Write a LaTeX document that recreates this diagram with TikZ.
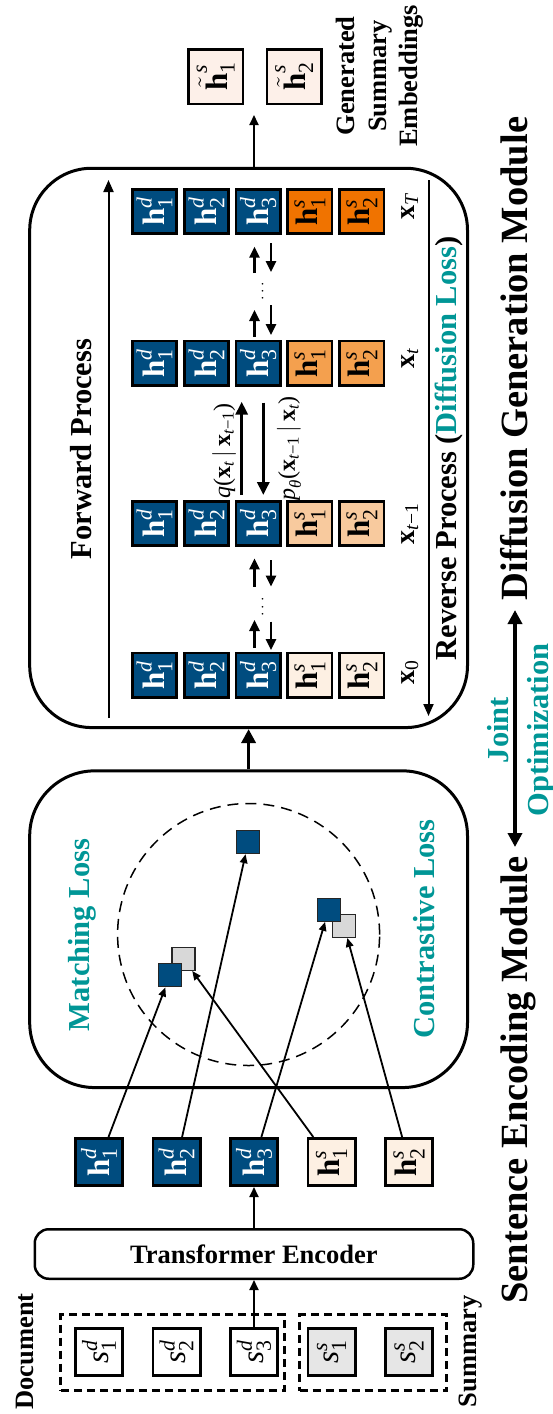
\RequirePackage{fix-cm}
\documentclass[tikz,border=0pt]{standalone}
\usepackage{amsmath}
\usepackage{fontspec}
\setmainfont{Liberation Serif}
\usetikzlibrary{arrows.meta}

\definecolor{encblue}{RGB}{0,76,127}
\definecolor{creamfill}{RGB}{253,240,227}
\definecolor{genfill}{RGB}{253,240,233}
\definecolor{orangeT}{RGB}{240,115,0}
\definecolor{orangeM}{RGB}{244,160,78}
\definecolor{orangeL}{RGB}{248,202,158}
\definecolor{sentgray}{RGB}{230,230,230}
\definecolor{sqgray}{RGB}{216,216,216}
\definecolor{tealtxt}{RGB}{0,150,150}

\newcommand{\lblsmall}{\bfseries\fontsize{26.5}{31.5}\selectfont}
\newcommand{\lblmid}{\bfseries\fontsize{30.5}{36}\selectfont}
\newcommand{\lblbig}{\bfseries\fontsize{38.5}{46}\selectfont}
\newcommand{\boxfont}{\fontsize{31}{34}\selectfont}
\newcommand{\embd}[1]{$\textbf{h}^{\textit{d}}_{\textrm{#1}}$}
\newcommand{\embs}[1]{$\textbf{h}^{\textit{s}}_{\textrm{#1}}$}
\newcommand{\embg}[1]{$\tilde{\textbf{h}}^{\textit{s}}_{\textrm{#1}}$}
\newcommand{\sentd}[1]{$\textit{s}^{\textit{d}}_{\textrm{#1}}$}
\newcommand{\sents}[1]{$\textit{s}^{\textit{s}}_{\textrm{#1}}$}

\begin{document}
\begin{tikzpicture}[x=1pt,y=-1pt,
  sq/.style={draw=black, line width=2.7pt, inner sep=0pt, rotate=90, font=\boxfont},
  encsq/.style={sq, minimum size=47.3pt},
  difsq/.style={sq, minimum size=44.3pt},
  gensq/.style={sq, minimum size=54.3pt, fill=genfill},
  hd/.style={fill=encblue, text=white},
  emb/.style={draw=black!85, line width=1.3pt, minimum size=23pt, inner sep=0pt},
  module/.style={draw=black, line width=3pt, inner sep=0pt},
  grp/.style={draw=black, line width=3pt, dash pattern=on 8pt off 5pt, inner sep=0pt},
  lbl/.style={rotate=90, inner sep=0pt, anchor=base},
  statelbl/.style={lbl, font=\fontsize{28}{32}\selectfont},
  link/.style={line width=1.8pt, -{Triangle[length=9pt,width=7.5pt]}},
  flow/.style={line width=2pt, -{Triangle[length=10pt,width=9pt]}},
  proc/.style={line width=2pt, -{Triangle[length=12pt,width=10pt]}},
  tick/.style={line width=2.5pt, -{Triangle[length=11pt,width=10pt]}},
  qp/.style={line width=3pt, -{Triangle[length=13pt,width=12pt]}},
  heavy/.style={line width=3.5pt, -{Triangle[length=14pt,width=14pt]}},
]
\useasboundingbox (0,0) rectangle (553,1414);

% ---------- input sentences ----------
\node[encsq, fill=white] (s1d) at (99,1352) {\sentd{1}};
\node[encsq, fill=white] (s2d) at (176.5,1352) {\sentd{2}};
\node[encsq, fill=white] (s3d) at (254,1352) {\sentd{3}};
\node[encsq, fill=sentgray] (s1s) at (331.5,1352) {\sents{1}};
\node[encsq, fill=sentgray] (s2s) at (409,1352) {\sents{2}};
\node[grp, minimum width=223.4pt, minimum height=76pt] (docgrp) at (172.5,1352.5) {};
\node[grp, minimum width=147pt, minimum height=76pt] (sumgrp) at (373,1352.5) {};
\node[lbl, font=\lblsmall] (doclbl) at (33.5,1351.5) {Document};
\node[lbl, font=\lblsmall] (sumlbl) at (476.5,1351.5) {Summary};

% ---------- encoder and sentence embeddings ----------
\node[draw, line width=2.5pt, rounded corners=14pt, minimum width=438.5pt,
      minimum height=49.5pt, font=\lblsmall] (enc) at (254,1254) {Transformer Encoder};
\node[encsq, hd] (h1d) at (99,1162) {\embd{1}};
\node[encsq, hd] (h2d) at (176.5,1162) {\embd{2}};
\node[encsq, hd] (h3d) at (254,1162) {\embd{3}};
\node[encsq, fill=creamfill] (h1s) at (331.5,1162) {\embs{1}};
\node[encsq, fill=creamfill] (h2s) at (409,1162) {\embs{2}};
\draw[flow] (s3d) -- (enc);
\draw[flow] (enc) -- (h3d);

% ---------- sentence encoding module ----------
\node[module, rounded corners=65pt, minimum width=437.8pt, minimum height=316.7pt] (senc) at (248.6,929.2) {};
\draw[line width=1.5pt, dash pattern=on 11pt off 7pt] (248.6,934.5) circle[radius=131pt];
\node[emb, fill=sqgray] (g1) at (183.4,958.8) {};
\node[emb, fill=encblue] (b1) at (170,975.3) {};
\node[emb, fill=encblue] (b0) at (248.3,842) {};
\node[emb, fill=sqgray] (g2) at (344,925.8) {};
\node[emb, fill=encblue] (b2) at (328.7,909.7) {};
\draw[link] (h1d) -- (b1);
\draw[link] (h2d) -- (b0);
\draw[link] (h3d) -- (b2);
\draw[link] (h1s) -- (g1);
\draw[link] (h2s) -- (g2);
\node[lbl, font=\lblmid, text=tealtxt] (mlbl) at (89.4,935) {Matching Loss};
\node[lbl, font=\lblmid, text=tealtxt] (clbl) at (434,929) {Contrastive Loss};

% ---------- diffusion generation module ----------
\node[module, rounded corners=62pt, minimum width=437.8pt, minimum height=559.3pt] (diff) at (248.6,447.9) {};
\draw[heavy] (senc.north) -- (diff.south);

\foreach \r/\py/\sfill in {T/211.5/orangeT, t/363/orangeM, m/523.3/orangeL, z/675/creamfill} {
  \node[difsq, hd] (\r1) at (154.5,\py) {\embd{1}};
  \node[difsq, hd] (\r2) at (206.4,\py) {\embd{2}};
  \node[difsq, hd] (\r3) at (258.2,\py) {\embd{3}};
  \node[difsq, fill=\sfill] (\r4) at (309.8,\py) {\embs{1}};
  \node[difsq, fill=\sfill] (\r5) at (361.8,\py) {\embs{2}};
}
\node[statelbl] (xT) at (414,207) {$\textbf{x}_{\textit{T}}$};
\node[statelbl] (xt) at (414,359) {$\textbf{x}_{\textit{t}}$};
\node[statelbl] (xm) at (414,524) {$\textbf{x}_{\textit{t}\textrm{−1}}$};
\node[statelbl] (x0) at (414,672) {$\textbf{x}_{\textrm{0}}$};

% transition arrows between consecutive states
\foreach \n/\ya/\yb/\yc/\yd in {a/273/246.7/243/272, b/336.7/310/305/335, c/586.7/558.3/560/586.7, d/648/620/621.7/650} {
  \coordinate (up\n s) at (254.5,\ya);
  \coordinate (up\n e) at (254.5,\yb);
  \coordinate (dn\n s) at (271,\yc);
  \coordinate (dn\n e) at (271,\yd);
  \draw[tick] (up\n s) -- (up\n e);
  \draw[tick] (dn\n s) -- (dn\n e);
}
\node[rotate=90, inner sep=0pt, font=\fontsize{16}{18}\selectfont] (dots1) at (263,290) {$\cdots$};
\node[rotate=90, inner sep=0pt, font=\fontsize{16}{18}\selectfont] (dots2) at (263,605.5) {$\cdots$};

\coordinate (qs) at (241.7,495);
\coordinate (qe) at (241.7,401.7);
\coordinate (ps) at (263.3,402.7);
\coordinate (pe) at (263.3,495);
\draw[qp] (qs) -- (qe);
\draw[qp] (ps) -- (pe);
\node[rotate=90, inner sep=0pt, font=\fontsize{24}{28}\selectfont] (qlbl) at (224,451)
  {$\textit{q}\textrm{(}\textbf{x}_{\textit{t}}\,|\,\textbf{x}_{\textit{t}\textrm{−1}}\textrm{)}$};
\node[rotate=90, inner sep=0pt, font=\fontsize{24}{28}\selectfont] (plbl) at (289,448.5)
  {$\textit{p}_{\textit{θ}}\textrm{(}\textbf{x}_{\textit{t}\textrm{−1}}\,|\,\textbf{x}_{\textit{t}}\textrm{)}$};

% forward and reverse process
\coordinate (fwds) at (108.5,718);
\coordinate (fwde) at (108.5,180);
\coordinate (revs) at (428.5,180);
\coordinate (reve) at (428.5,716);
\draw[proc] (fwds) -- (fwde);
\draw[proc] (revs) -- (reve);
\node[lbl, font=\lblmid] (fwdlbl) at (91.7,449) {Forward Process};
\node[lbl, font=\lblmid] (revlbl) at (456,448.5) {Reverse Process (\textcolor{tealtxt}{Diffusion Loss})};

% ---------- generated summary embeddings ----------
\node[gensq] (gen1) at (215.7,76.7) {\embg{1}};
\node[gensq] (gen2) at (294.2,76.7) {\embg{2}};
\coordinate (genin) at (254,115);
\draw[flow] (diff.north -| genin) -- (genin);
\node[rotate=90, inner sep=0pt, align=center, font=\lblsmall] (genlbl) at (380,76) {Generated\\Summary\\Embeddings};

% ---------- module titles ----------
\node[lbl, font=\lblbig] (senclbl) at (527,1080) {Sentence Encoding Module};
\node[lbl, font=\lblbig] (difflbl) at (527,358.5) {Diffusion Generation Module};
\coordinate (jointa) at (515,847);
\coordinate (jointb) at (515,610);
\draw[line width=3.5pt, {Triangle[length=14pt,width=14pt]}-{Triangle[length=14pt,width=14pt]}] (jointa) -- (jointb);
\node[lbl, font=\lblmid, text=tealtxt] (jlbl) at (508,730) {Joint};
\node[lbl, font=\lblmid, text=tealtxt] (olbl) at (548,730) {Optimization};
\end{tikzpicture}
\end{document}
